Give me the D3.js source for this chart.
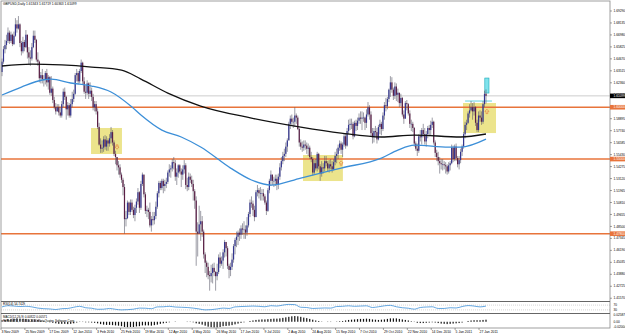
<!DOCTYPE html>
<html><head><meta charset="utf-8">
<script src="https://cdn.jsdelivr.net/npm/d3@7/dist/d3.min.js"></script>
<style>html,body{margin:0;padding:0;background:#fff;overflow:hidden}</style>
</head><body>
<svg id="c" width="625" height="334"></svg>
<script>
// ---------------- data ----------------
const titleText = "GBPUSD,Daily  1.61343 1.61719 1.60363 1.61099";
const firstOpen = 1.6340;
const closes = [
1.6440,1.6560,1.6600,1.6640,
1.6720,1.6640,1.6700,1.6610,1.6690,
1.6800,1.6760,1.6800,1.6620,1.6540,
1.6630,1.6580,1.6700,1.6530,1.6480,
1.6470,1.6580,1.6690,1.6650,1.6460,
1.6440,1.6280,1.6310,1.6270,1.6270,
1.6330,1.6240,1.6290,1.6140,1.6180,
1.6070,1.6000,1.5960,1.6000,
1.5950,1.5920,1.6030,1.6150,
1.6100,1.5980,1.6020,1.5920,1.6030,
1.6080,1.6130,1.6310,1.6330,1.6250,
1.6350,1.6430,1.6250,1.6150,1.6140,
1.6230,1.6130,1.6160,1.6100,1.6000,
1.6030,1.5960,1.5810,1.5640,1.5600,
1.5610,1.5690,1.5620,1.5680,1.5650,
1.5700,1.5760,1.5660,1.5550,1.5520,
1.5440,1.5420,1.5350,1.5300,1.5230,
1.4920,1.4930,1.5080,1.4990,1.5080,
1.5010,1.4960,1.5030,1.5090,1.5180,
1.5030,1.5260,1.5350,1.5160,1.5000,
1.5010,1.4990,1.4860,1.4920,1.4910,
1.4950,1.5040,1.5170,1.5270,1.5220,
1.5290,1.5240,1.5260,1.5280,1.5370,
1.5400,1.5410,1.5470,1.5460,1.5330,
1.5370,1.5440,1.5380,1.5350,1.5400,
1.5440,1.5250,1.5230,1.5330,1.5300,
1.5260,1.5190,1.5100,1.4800,1.4780,
1.4870,1.4900,1.4800,1.4580,1.4500,
1.4460,1.4380,1.4370,1.4400,1.4450,
1.4410,1.4370,1.4410,1.4550,1.4490,
1.4520,1.4600,1.4700,1.4640,1.4470,
1.4430,1.4460,1.4530,1.4660,1.4720,
1.4750,1.4790,1.4770,1.4830,1.4820,
1.4820,1.4790,1.4860,1.4970,1.5080,
1.5070,1.5010,1.4940,1.5180,1.5200,
1.5170,1.5170,1.5170,1.5140,1.5080,
1.5000,1.5200,1.5290,1.5350,1.5290,
1.5290,1.5310,1.5250,1.5330,1.5420,
1.5480,1.5530,1.5550,1.5620,1.5680,
1.5840,1.5890,1.5860,1.5860,1.5920,
1.5900,1.5790,1.5660,1.5620,1.5610,
1.5640,1.5630,1.5600,1.5610,1.5520,
1.5500,1.5370,1.5460,1.5410,1.5550,
1.5430,1.5360,1.5420,1.5410,1.5480,
1.5460,1.5410,1.5450,1.5430,1.5400,
1.5470,1.5530,1.5550,1.5610,1.5650,
1.5590,1.5640,1.5720,1.5630,1.5770,
1.5830,1.5840,1.5840,1.5720,1.5850,
1.5820,1.5870,1.5900,1.5890,1.5900,
1.5900,1.5850,1.5930,1.6000,1.5930,
1.5750,1.5710,1.5770,1.5760,1.5690,
1.5810,1.5840,1.5790,1.5920,1.6020,
1.6010,1.6080,1.6170,1.6240,1.6170,
1.6110,1.6200,1.6120,1.6140,1.6040,
1.6090,1.5930,1.5890,1.6040,1.6030,
1.5940,1.5840,1.5840,1.5800,1.5650,
1.5600,1.5580,1.5720,1.5710,1.5780,
1.5740,1.5670,1.5740,1.5800,1.5780,
1.5830,1.5860,1.5660,1.5560,1.5520,
1.5480,1.5460,1.5450,1.5450,1.5440,
1.5430,1.5380,1.5440,1.5460,1.5610,
1.5500,1.5620,1.5510,1.5450,1.5490,
1.5570,1.5620,1.5740,1.5830,1.5850,
1.5940,1.5970,1.6000,1.5960,1.6000,
1.5850,1.5780,1.5920,1.5900,1.5860,
1.6030,1.6130,1.6110];
const highs = [
1.6470,1.6590,1.6650,1.6700,
1.6770,1.6740,1.6730,1.6710,1.6730,
1.6860,1.6840,1.6880,1.6810,1.6640,
1.6680,1.6650,1.6745,1.6700,1.6580,
1.6550,1.6620,1.6740,1.6740,1.6660,
1.6530,1.6450,1.6340,1.6370,1.6310,
1.6350,1.6370,1.6310,1.6300,1.6300,
1.6200,1.6100,1.6040,1.6030,
1.6030,1.6000,1.6060,1.6180,
1.6190,1.6110,1.6050,1.6040,1.6080,
1.6150,1.6170,1.6330,1.6370,1.6350,
1.6370,1.6460,1.6440,1.6290,1.6210,
1.6260,1.6240,1.6240,1.6190,1.6130,
1.6060,1.6060,1.5990,1.5850,1.5700,
1.5680,1.5720,1.5730,1.5720,1.5700,
1.5740,1.5810,1.5780,1.5680,1.5580,
1.5520,1.5480,1.5450,1.5370,1.5320,
1.5260,1.5000,1.5100,1.5090,1.5110,
1.5110,1.5040,1.5060,1.5120,1.5220,
1.5190,1.5290,1.5370,1.5350,1.5180,
1.5050,1.5030,1.5080,1.4950,1.4990,
1.4990,1.5090,1.5190,1.5290,1.5290,
1.5310,1.5310,1.5300,1.5320,1.5390,
1.5450,1.5440,1.5500,1.5520,1.5490,
1.5410,1.5450,1.5450,1.5410,1.5440,
1.5490,1.5460,1.5320,1.5370,1.5360,
1.5340,1.5300,1.5210,1.5140,1.4890,
1.5050,1.5000,1.4950,1.4820,1.4600,
1.4520,1.4500,1.4420,1.4480,1.4490,
1.4500,1.4420,1.4490,1.4580,1.4600,
1.4560,1.4630,1.4720,1.4700,1.4660,
1.4490,1.4500,1.4590,1.4680,1.4740,
1.4800,1.4810,1.4830,1.4860,1.4880,
1.4900,1.4860,1.4940,1.4990,1.5110,
1.5140,1.5100,1.5050,1.5200,1.5250,
1.5220,1.5230,1.5210,1.5210,1.5160,
1.5100,1.5220,1.5310,1.5390,1.5350,
1.5330,1.5350,1.5350,1.5360,1.5460,
1.5520,1.5570,1.5600,1.5660,1.5700,
1.5860,1.5920,1.5930,1.5900,1.6000,
1.5940,1.5920,1.5800,1.5690,1.5670,
1.5680,1.5680,1.5660,1.5650,1.5630,
1.5570,1.5520,1.5490,1.5500,1.5570,
1.5560,1.5450,1.5480,1.5460,1.5530,
1.5530,1.5480,1.5490,1.5500,1.5480,
1.5500,1.5570,1.5600,1.5640,1.5680,
1.5670,1.5660,1.5750,1.5750,1.5800,
1.5880,1.5890,1.5890,1.5860,1.5870,
1.5880,1.5900,1.5940,1.5960,1.5960,
1.5950,1.5910,1.5980,1.6050,1.6020,
1.5960,1.5800,1.5800,1.5820,1.5800,
1.5830,1.5880,1.5860,1.5950,1.6050,
1.6090,1.6100,1.6180,1.6300,1.6290,
1.6190,1.6240,1.6230,1.6180,1.6140,
1.6130,1.6100,1.5970,1.6060,1.6070,
1.6040,1.5970,1.5880,1.5860,1.5810,
1.5670,1.5650,1.5740,1.5780,1.5800,
1.5840,1.5800,1.5770,1.5820,1.5830,
1.5870,1.5900,1.5870,1.5680,1.5590,
1.5570,1.5520,1.5500,1.5500,1.5480,
1.5470,1.5450,1.5470,1.5480,1.5640,
1.5630,1.5640,1.5650,1.5530,1.5530,
1.5600,1.5640,1.5760,1.5860,1.5880,
1.5960,1.6030,1.6060,1.6040,1.6050,
1.6010,1.5880,1.5960,1.5970,1.5960,
1.6060,1.6160,1.6172];
const lows = [
1.6300,1.6420,1.6520,1.6560,
1.6620,1.6610,1.6620,1.6590,1.6600,
1.6680,1.6720,1.6750,1.6580,1.6500,
1.6520,1.6540,1.6570,1.6470,1.6410,
1.6400,1.6450,1.6570,1.6620,1.6440,
1.6400,1.6240,1.6230,1.6230,1.6200,
1.6220,1.6200,1.6170,1.6120,1.6110,
1.6040,1.5980,1.5930,1.5960,
1.5920,1.5900,1.5900,1.6000,
1.6070,1.5880,1.5920,1.5900,1.5900,
1.6000,1.6050,1.6120,1.6250,1.6220,
1.6230,1.6330,1.6220,1.6130,1.6080,
1.6120,1.6080,1.6100,1.6060,1.5970,
1.5960,1.5930,1.5790,1.5630,1.5560,
1.5560,1.5570,1.5590,1.5580,1.5580,
1.5620,1.5650,1.5630,1.5530,1.5450,
1.5390,1.5350,1.5320,1.5270,1.5150,
1.4780,1.4850,1.4920,1.4960,1.4960,
1.4990,1.4930,1.4900,1.4980,1.5060,
1.4980,1.5010,1.5240,1.5130,1.4970,
1.4940,1.4920,1.4840,1.4800,1.4860,
1.4870,1.4920,1.5020,1.5130,1.5200,
1.5200,1.5170,1.5190,1.5220,1.5260,
1.5330,1.5320,1.5380,1.5400,1.5290,
1.5250,1.5320,1.5360,1.5230,1.5300,
1.5360,1.5210,1.5190,1.5200,1.5270,
1.5230,1.5100,1.5020,1.4470,1.4560,
1.4780,1.4710,1.4750,1.4540,1.4400,
1.4360,1.4340,1.4230,1.4310,1.4300,
1.4370,1.4230,1.4330,1.4390,1.4450,
1.4470,1.4440,1.4550,1.4560,1.4440,
1.4350,1.4370,1.4430,1.4500,1.4580,
1.4650,1.4670,1.4710,1.4730,1.4770,
1.4730,1.4730,1.4760,1.4840,1.4940,
1.5030,1.4950,1.4900,1.4960,1.5140,
1.5120,1.5100,1.5100,1.5100,1.5060,
1.4960,1.4990,1.5170,1.5240,1.5250,
1.5230,1.5240,1.5200,1.5210,1.5300,
1.5390,1.5450,1.5480,1.5520,1.5570,
1.5680,1.5790,1.5830,1.5800,1.5810,
1.5840,1.5780,1.5620,1.5590,1.5570,
1.5580,1.5590,1.5550,1.5530,1.5500,
1.5470,1.5340,1.5350,1.5390,1.5380,
1.5400,1.5290,1.5330,1.5360,1.5380,
1.5430,1.5380,1.5370,1.5400,1.5370,
1.5390,1.5440,1.5460,1.5500,1.5580,
1.5550,1.5520,1.5620,1.5600,1.5620,
1.5740,1.5780,1.5790,1.5690,1.5710,
1.5770,1.5780,1.5840,1.5840,1.5780,
1.5860,1.5780,1.5800,1.5910,1.5880,
1.5720,1.5650,1.5660,1.5710,1.5650,
1.5680,1.5740,1.5730,1.5770,1.5880,
1.5960,1.5980,1.6050,1.6100,1.6140,
1.6070,1.6080,1.6060,1.6050,1.6000,
1.6010,1.5910,1.5840,1.5890,1.5970,
1.5920,1.5800,1.5770,1.5760,1.5620,
1.5580,1.5530,1.5560,1.5670,1.5640,
1.5710,1.5640,1.5620,1.5700,1.5720,
1.5730,1.5800,1.5640,1.5520,1.5480,
1.5440,1.5360,1.5400,1.5390,1.5400,
1.5360,1.5350,1.5360,1.5390,1.5450,
1.5470,1.5480,1.5480,1.5420,1.5400,
1.5460,1.5530,1.5600,1.5700,1.5780,
1.5840,1.5900,1.5960,1.5880,1.5920,
1.5820,1.5760,1.5760,1.5860,1.5830,
1.5840,1.6000,1.6036];

const dateLabels = ["3 Nov 2009","25 Nov 2009","17 Dec 2009","12 Jan 2010","3 Feb 2010","25 Feb 2010","19 Mar 2010","12 Apr 2010","4 May 2010","26 May 2010","17 Jun 2010","9 Jul 2010","2 Aug 2010","24 Aug 2010","15 Sep 2010","7 Oct 2010","29 Oct 2010","22 Nov 2010","14 Dec 2010","5 Jan 2011","27 Jan 2011"];
const dateBars = [0,16,32,48,64,80,96,112,128,144,160,176,192,208,224,240,256,272,288,304,320];

const priceTicks = [1.69290,1.68135,1.66980,1.65825,1.64670,1.63515,1.62360,1.61205,1.60050,1.58895,1.57740,1.56585,1.55430,1.54275,1.53120,1.51965,1.50810,1.49655,1.48500,1.47345,1.46190,1.45035,1.43880,1.42725,1.41570];

// moving averages (bar index, value)
const maSlowBars = [0,20,40,60,80,93,111,133,167,200,227,254,276,307,324];
const maSlowVals = [1.6398,1.6417,1.6408,1.6388,1.6359,1.6272,1.6137,1.6012,1.5896,1.5809,1.5751,1.5713,1.5732,1.5713,1.5742];
const maFastBars = [0,13,27,33,46,60,73,87,93,107,120,133,153,167,180,200,227,254,265,276,299,307,324];
const maFastVals = [1.6118,1.6195,1.6263,1.6272,1.6234,1.6205,1.6147,1.6002,1.5925,1.5780,1.5713,1.5616,1.5413,1.5298,1.5249,1.5317,1.5413,1.5510,1.5587,1.5635,1.5616,1.5616,1.5693];

const levelPrices = [1.6000, 1.5500, 1.4780];
const levelLabels = ["1.60000","1.55000","1.47800"];
const bidPrice = 1.61099;
const bidLabel = "1.61099";

const zoneBars0 = [59.6, 201.5, 308.6];
const zoneBars1 = [80.3, 228.2, 330.7];
const zoneTop = [1.5800, 1.5539, 1.6041];
const zoneBottom = [1.5549, 1.5288, 1.5751];
const arrowBars = [77, 227, 324.6];
const arrowPrices = [1.5616, 1.5462, 1.5960];
const arrowDirs = ["down","up","up"];

const rsiEvery = 4;
const rsiVals = [55,65,62,58,60,55,45,40,38,33,40,42,52,60,48,44,35,36,42,35,30,32,36,45,44,40,55,56,60,54,52,50,45,38,30,32,38,45,42,55,58,60,62,60,56,65,62,70,76,74,52,50,42,44,46,45,58,60,64,60,62,64,50,56,64,68,56,48,44,36,50,54,56,42,42,48,46,58,66,62,55,62];
const rsiLevels = [70, 30];
const rsiTitle = "RSI(14) 54.7429";

const macdEvery = 2; // values in thousandths
const macdVals = [6,8,10,11,12,13,12,11,11,9,
9,9,7,4,2,0,-2,-4,-6,-8,
-8,-8,-9,-8,-6,-3,-1,-1,-2,-2,
-3,-4,-6,-9,-11,-12,-12,-13,-14,-15,
-17,-20,-21,-20,-20,-18,-17,-14,-14,-14,
-15,-13,-11,-8,-6,-4,-2,0,1,0,
0,0,-1,-1,-2,-6,-8,-11,-15,-19,
-21,-22,-22,-20,-17,-16,-15,-13,-10,-7,
-4,-2,0,3,5,7,8,9,9,10,
11,12,12,13,15,17,19,21,22,21,
19,16,14,11,8,5,3,1,0,-1,
-1,0,1,2,3,5,7,8,9,10,
11,11,12,11,9,8,7,8,9,11,
13,13,13,11,9,7,5,2,-1,-4,
-5,-5,-4,-3,-2,-3,-5,-7,-8,-9,
-8,-7,-6,-5,-3,0,3,5,6,6,
6,7,8];
const macdTicks = [25.87, 0, -20.04];
const macdTickLabels = ["0.02587","0.00","-0.02004"];
const macdTitle = "MACD(12,26,9) 0.00822 0.00571";
const copyright = "FxPro MT4, \u00a9 2001-2010 MetaQuotes Software Corp.";

// ---------------- drawing ----------------
const svg = d3.select("#c");
const FONT = "Liberation Sans, Arial, sans-serif";
const W = 625, H = 334, R = 610;
const MAIN_T = 0, MAIN_B = 301, RSI_T = 302, RSI_B = 313, MACD_T = 314, MACD_B = 328;

svg.append("rect").attr("width", W).attr("height", H).attr("fill", "#fff");

const x = d3.scaleLinear().domain([0, 324]).range([2, 486]);
const y = d3.scaleLinear().domain([1.4140, 1.7035]).range([300, 0]);
const yR = d3.scaleLinear().domain([0, 100]).range([313.5, 301.5]);
const yM = d3.scaleLinear().domain([-24, 26]).range([328, 315]);

const main = svg.append("g");
// zones
zoneBars0.forEach((b, k) => {
  main.append("rect")
    .attr("x", x(b)).attr("y", y(zoneTop[k]))
    .attr("width", x(zoneBars1[k]) - x(b)).attr("height", y(zoneBottom[k]) - y(zoneTop[k]))
    .attr("fill", "#ece48c");
});
// levels
levelPrices.forEach(p => {
  main.append("line").attr("x1", 1).attr("x2", R).attr("y1", y(p)).attr("y2", y(p))
    .attr("stroke", "#e8743b").attr("stroke-width", 1.4);
});
// bid line
main.append("line").attr("x1", 1).attr("x2", R).attr("y1", y(bidPrice)).attr("y2", y(bidPrice))
  .attr("stroke", "#c0c0c0").attr("stroke-width", 0.8);

// cyan marks near the last bar
main.append("line").attr("x1", x(310)).attr("x2", x(328)).attr("y1", y(1.6060)).attr("y2", y(1.6060))
  .attr("stroke", "#3cc8d8").attr("stroke-width", 0.8);
main.append("rect").attr("x", x(323.2)).attr("y", y(1.6282)).attr("width", x(326) - x(323.2))
  .attr("height", y(1.6137) - y(1.6282)).attr("fill", "#7fe3ec").attr("stroke", "#1aa9b8").attr("stroke-width", 0.6);

// candles
const bars = closes.map((c, i) => ({ i, o: i ? closes[i - 1] : firstOpen, h: highs[i], l: lows[i], c }));
const cg = main.append("g");
cg.selectAll("line.w").data(bars).join("line").attr("class", "w")
  .attr("x1", d => x(d.i)).attr("x2", d => x(d.i))
  .attr("y1", d => y(Math.max(d.h, d.o, d.c))).attr("y2", d => y(Math.min(d.l, d.o, d.c)))
  .attr("stroke", "#5a5a6a").attr("stroke-width", 0.6);
cg.selectAll("rect.b").data(bars).join("rect").attr("class", "b")
  .attr("x", d => x(d.i) - 0.6).attr("width", 1.2)
  .attr("y", d => y(Math.max(d.o, d.c)))
  .attr("height", d => Math.max(0.6, Math.abs(y(d.o) - y(d.c))))
  .attr("fill", d => d.c >= d.o ? "#33358f" : "#5a1f45");

// arrows
arrowBars.forEach((b, k) => {
  const cx = x(b), cy = y(arrowPrices[k]);
  const s = arrowDirs[k] === "up" ? -1 : 1;
  const pts = [[-0.9, -2.2 * s], [0.9, -2.2 * s], [0.9, 0], [2, 0], [0, 2.2 * s], [-2, 0], [-0.9, 0]];
  main.append("path").attr("d", "M" + pts.map(p => (cx + p[0]) + "," + (cy + p[1])).join("L") + "Z")
    .attr("fill", "none").attr("stroke", "#e8743b").attr("stroke-width", 0.6);
});

// moving averages
const lineGen = d3.line().x(d => x(d[0])).y(d => y(d[1])).curve(d3.curveMonotoneX);
main.append("path").attr("d", lineGen(maSlowBars.map((b, k) => [b, maSlowVals[k]])))
  .attr("fill", "none").attr("stroke", "#111").attr("stroke-width", 1.3);
main.append("path").attr("d", lineGen(maFastBars.map((b, k) => [b, maFastVals[k]])))
  .attr("fill", "none").attr("stroke", "#3c8fd8").attr("stroke-width", 1.3);

// title
svg.append("text").attr("x", 3).attr("y", 5).attr("font-family", FONT).attr("font-size", 3.3)
  .attr("fill", "#000").text(titleText);

// RSI panel
rsiLevels.forEach(v => {
  svg.append("line").attr("x1", 1).attr("x2", R).attr("y1", yR(v)).attr("y2", yR(v))
    .attr("stroke", "#aaa").attr("stroke-width", 0.5).attr("stroke-dasharray", "1,1");
});
svg.append("path").attr("d", d3.line().x((d, k) => x(k * rsiEvery)).y(d => yR(d)).curve(d3.curveMonotoneX)(rsiVals))
  .attr("fill", "none").attr("stroke", "#3c8fd8").attr("stroke-width", 0.8);
svg.append("text").attr("x", 3).attr("y", 305).attr("font-family", FONT).attr("font-size", 3)
  .attr("fill", "#000").text(rsiTitle);

// MACD panel
svg.selectAll("rect.m").data(macdVals).join("rect").attr("class", "m")
  .attr("x", (d, k) => x(k * macdEvery) - 0.6).attr("width", 1.2)
  .attr("y", d => Math.min(yM(d), yM(0))).attr("height", d => Math.abs(yM(d) - yM(0)))
  .attr("fill", "#111");
svg.append("text").attr("x", 3).attr("y", 318).attr("font-family", FONT).attr("font-size", 3)
  .attr("fill", "#000").text(macdTitle);
svg.append("text").attr("x", 3).attr("y", 322).attr("font-family", FONT).attr("font-size", 3)
  .attr("fill", "#000").text(copyright);

// frames & separators
svg.append("rect").attr("x", 1).attr("y", 1).attr("width", R - 1).attr("height", MACD_B - 1)
  .attr("fill", "none").attr("stroke", "#888").attr("stroke-width", 0.8);
[MAIN_B + 0.5, RSI_B + 0.5].forEach(v => {
  svg.append("line").attr("x1", 1).attr("x2", R).attr("y1", v).attr("y2", v)
    .attr("stroke", "#666").attr("stroke-width", 1);
});

// price axis
const ax = svg.append("g");
priceTicks.forEach(p => {
  ax.append("line").attr("x1", R).attr("x2", R + 2).attr("y1", y(p)).attr("y2", y(p)).attr("stroke", "#444").attr("stroke-width", 0.5);
  ax.append("text").attr("x", R + 3.5).attr("y", y(p) + 1.1).attr("font-family", FONT).attr("font-size", 3.2).attr("fill", "#000").text(p.toFixed(5));
});
levelPrices.forEach((p, k) => {
  ax.append("rect").attr("x", R).attr("y", y(p) - 2.3).attr("width", W - R).attr("height", 4.6).attr("fill", "#e8743b");
  ax.append("text").attr("x", R + 3.5).attr("y", y(p) + 1.1).attr("font-family", FONT).attr("font-size", 3.2).attr("fill", "#fff").text(levelLabels[k]);
});
ax.append("rect").attr("x", R).attr("y", y(bidPrice) - 2.3).attr("width", W - R).attr("height", 4.6).attr("fill", "#000");
ax.append("text").attr("x", R + 3.5).attr("y", y(bidPrice) + 1.1).attr("font-family", FONT).attr("font-size", 3.2).attr("fill", "#fff").text(bidLabel);

rsiLevels.forEach(v => {
  ax.append("text").attr("x", R + 3.5).attr("y", yR(v) + 1.1).attr("font-family", FONT).attr("font-size", 3.2).attr("fill", "#000").text(String(v));
});
macdTicks.forEach((v, k) => {
  ax.append("text").attr("x", R + 3.5).attr("y", yM(v) + 1.1).attr("font-family", FONT).attr("font-size", 3.2).attr("fill", "#000").text(macdTickLabels[k]);
});

// date axis
dateBars.forEach((b, k) => {
  svg.append("line").attr("x1", x(b) - 1).attr("x2", x(b) - 1).attr("y1", MACD_B).attr("y2", MACD_B + 2).attr("stroke", "#444").attr("stroke-width", 0.5);
  svg.append("text").attr("x", x(b) - 0.5).attr("y", 332.5).attr("font-family", FONT).attr("font-size", 3.4).attr("fill", "#000").text(dateLabels[k]);
});
</script>
</body></html>
